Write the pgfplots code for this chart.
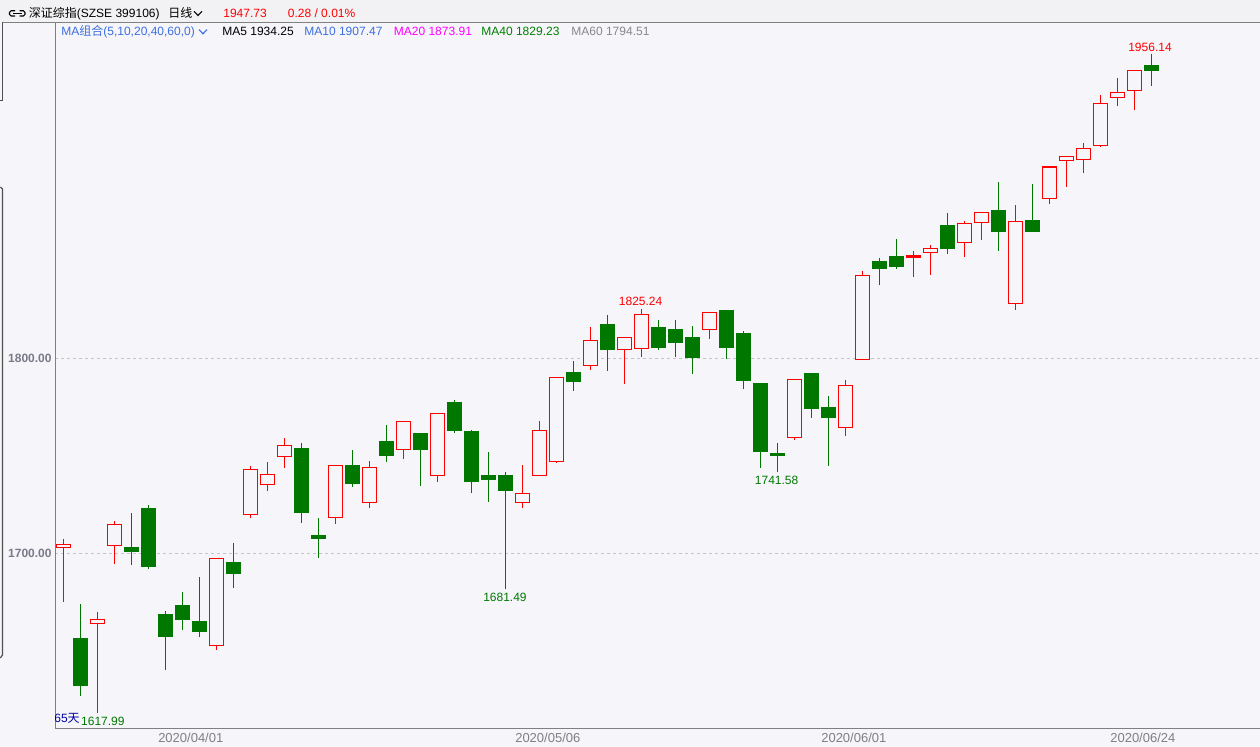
\documentclass[border=0pt]{standalone}
\usepackage{pgfplots}
\pgfplotsset{compat=1.18}
\usepackage{pgfplotstable}
\usepgfplotslibrary{statistics}
\usepackage{fontspec}
\setmainfont{Liberation Sans}
\newfontfamily\cjk{Noto Sans CJK SC}
\definecolor{bg}{HTML}{F5F5FA}
\definecolor{hdr}{HTML}{F2F2F4}
\definecolor{kred}{HTML}{FF0000}
\definecolor{kgreen}{HTML}{007800}
\definecolor{axgray}{HTML}{808080}
\definecolor{lblgray}{HTML}{7A7A88}
\definecolor{griddash}{HTML}{C4C4C8}
\definecolor{mablue}{HTML}{3D6FE0}
\definecolor{mamag}{HTML}{FF00FF}
\definecolor{magreen}{HTML}{008000}
\definecolor{magray}{HTML}{888888}
\definecolor{daynavy}{HTML}{0000A0}
\definecolor{strip}{HTML}{505050}
\newcommand\lbl{\fontsize{6pt}{7pt}\selectfont}

\pgfplotstableread{
i o h l c
0 1703.1 1707.3 1675.2 1704.6
1 1656.0 1674.0 1627.0 1632.1
2 1664.1 1669.9 1617.99 1666.2
3 1704.1 1716.6 1694.7 1714.9
4 1702.7 1720.7 1694.2 1700.8
5 1722.7 1724.8 1692.1 1693.1
6 1668.4 1670.4 1640.3 1657.2
7 1673.0 1680.2 1660.8 1666.0
8 1664.8 1687.8 1657.2 1659.8
9 1652.8 1697.4 1650.3 1697.4
10 1695.0 1705.3 1682.4 1689.5
11 1720.0 1744.6 1718.3 1743.1
12 1735.4 1746.8 1732.1 1740.5
13 1749.7 1759.1 1743.9 1755.4
14 1753.5 1756.6 1715.7 1720.8
15 1708.9 1718.1 1697.7 1707.5
16 1718.5 1745.1 1715.2 1745.1
17 1745.1 1753.0 1734.2 1735.7
18 1726.2 1747.3 1723.4 1744.1
19 1757.1 1765.8 1747.0 1750.1
20 1753.3 1767.7 1748.5 1767.7
21 1761.2 1761.2 1734.7 1753.1
22 1740.0 1771.8 1736.7 1771.8
23 1777.1 1778.6 1761.8 1762.9
24 1762.2 1763.2 1731.1 1736.7
25 1740.0 1751.9 1726.5 1737.9
26 1740.0 1741.7 1681.49 1732.1
27 1726.2 1745.1 1723.1 1730.8
28 1740.0 1767.8 1740.0 1763.1
29 1747.2 1790.3 1746.2 1790.3
30 1792.5 1798.6 1783.4 1788.0
31 1796.4 1816.1 1794.2 1809.2
32 1817.1 1822.2 1793.6 1804.4
33 1804.6 1810.8 1787.0 1810.8
34 1805.1 1825.24 1800.8 1822.6
35 1815.5 1819.6 1804.4 1805.4
36 1814.5 1819.6 1800.8 1808.0
37 1810.4 1816.6 1792.1 1800.2
38 1814.9 1823.6 1810.1 1823.6
39 1824.3 1824.3 1799.8 1805.4
40 1812.5 1814.0 1784.4 1788.5
41 1786.8 1786.8 1743.9 1752.1
42 1750.9 1756.6 1741.58 1750.1
43 1759.5 1789.2 1758.3 1789.2
44 1791.9 1791.9 1769.5 1774.2
45 1774.5 1780.7 1744.9 1769.5
46 1764.6 1788.9 1760.3 1786.2
47 1799.5 1844.8 1799.5 1842.6
48 1849.4 1851.4 1837.7 1845.9
49 1851.9 1861.2 1845.9 1847.0
50 1851.6 1855.0 1841.8 1852.5
51 1854.4 1858.1 1842.9 1856.4
52 1867.8 1874.5 1853.6 1856.2
53 1859.5 1870.3 1852.1 1869.2
54 1869.7 1874.9 1860.8 1874.9
55 1875.5 1890.4 1855.2 1864.9
56 1828.2 1878.6 1824.9 1870.3
57 1870.4 1889.4 1864.9 1864.9
58 1882.1 1898.1 1879.3 1898.1
59 1901.5 1903.6 1888.0 1903.6
60 1902.1 1910.3 1895.2 1907.7
61 1909.2 1935.0 1908.2 1930.8
62 1933.8 1943.7 1929.5 1936.4
63 1937.4 1947.7 1927.5 1947.45
64 1950.2 1956.14 1939.8 1947.73
}\ohlc

\pgfplotsset{
  upcandle/.style={draw=kred, fill=bg, line width=0.65pt, solid, mark=none},
  downcandle/.style={draw=kgreen, fill=kgreen, line width=0.6pt, solid, mark=none},
}

\begin{document}
\begin{tikzpicture}
\fill[bg] (0,0) rectangle (630pt,373.5pt);
\path[use as bounding box] (0,0) rectangle (630pt,373.5pt);
\begin{scope}[x=0.5pt,y=-0.5pt,yshift=373.5pt]
  \fill[hdr] (0,0) rectangle (1260,22.3);
  \draw[axgray, line width=0.5pt] (2.5,22.3) -- (1260,22.3);
  \draw[strip, line width=0.6pt] (0,100.7) -- (2.5,100.7) -- (2.5,22.3);
  \draw[strip, line width=0.6pt] (0.3,187) -- (2.5,189) -- (2.5,655) -- (0.3,658);
  % header icon
  \draw[black, line width=0.55pt, rounded corners=0.8pt] (15,10.8) -- (9.5,10.8) -- (9.5,16) -- (15,16);
  \draw[black, line width=0.55pt, rounded corners=0.8pt] (19.5,10.8) -- (25,10.8) -- (25,16) -- (19.5,16);
  \draw[black, line width=0.55pt] (13,13.4) -- (21.5,13.4);
  \node[anchor=west, inner sep=0pt, font=\lbl] at (28.5,13.3) {{\cjk 深证综指}(SZSE 399106)};
  \node[anchor=west, inner sep=0pt, font=\lbl] at (168,13.3) {{\cjk 日线}};
  \draw[black, line width=0.55pt] (194,11.3) -- (198,15.5) -- (202,11.3);
  \node[anchor=west, inner sep=0pt, font=\lbl, text=kred] at (223,13.3) {1947.73};
  \node[anchor=west, inner sep=0pt, font=\lbl, text=kred] at (287.5,13.3) {0.28 / 0.01\%};
  % MA row
  \node[anchor=west, inner sep=0pt, font=\lbl, text=mablue] at (61,31.7) {MA{\cjk 组合}(5,10,20,40,60,0)};
  \draw[mablue, line width=0.55pt] (199,29.6) -- (203,33.8) -- (207,29.6);
  \node[anchor=west, inner sep=0pt, font=\lbl, text=black] at (222,31.7) {MA5 1934.25};
  \node[anchor=west, inner sep=0pt, font=\lbl, text=mablue] at (304,31.7) {MA10 1907.47};
  \node[anchor=west, inner sep=0pt, font=\lbl, text=mamag] at (393.5,31.7) {MA20 1873.91};
  \node[anchor=west, inner sep=0pt, font=\lbl, text=magreen] at (481,31.7) {MA40 1829.23};
  \node[anchor=west, inner sep=0pt, font=\lbl, text=magray] at (571,31.7) {MA60 1794.51};
\end{scope}
\begin{axis}[
  at={(27.65pt,9.35pt)}, anchor=south west,
  scale only axis, width=602.35pt, height=353pt,
  xmin=-0.47, xmax=70.39, ymin=1610.26, ymax=1972.31,
  axis x line*=bottom, axis y line*=left,
  axis line style={-, draw=axgray, line width=0.5pt},
  major tick length=0pt,
  boxplot/draw direction=y,
  boxplot/box extend=0.82,
  boxplot/whisker extend=0,
  ytick={1700,1800},
  scaled y ticks=false,
  ymajorgrids,
  grid style={griddash, dash pattern=on 1.5pt off 1.5pt, line width=0.5pt},
  yticklabel style={/pgf/number format/fixed, /pgf/number format/fixed zerofill,
    /pgf/number format/precision=2, /pgf/number format/1000 sep={},
    /pgf/number format/assume math mode=true,
    font=\lbl\bfseries, text=lblgray, anchor=east, inner sep=0pt, xshift=-1.65pt},
  xtick={7.5,28.5,46.5,63.5},
  xticklabels={2020/04/01,2020/05/06,2020/06/01,2020/06/24},
  xticklabel style={font=\fontsize{6.5pt}{7.5pt}\selectfont, text=axgray, anchor=center, inner sep=0pt, yshift=-4.85pt},
]
\pgfplotsinvokeforeach{0,...,64}{
  \pgfplotstablegetelem{#1}{o}\of\ohlc \let\kO\pgfplotsretval
  \pgfplotstablegetelem{#1}{h}\of\ohlc \let\kH\pgfplotsretval
  \pgfplotstablegetelem{#1}{l}\of\ohlc \let\kL\pgfplotsretval
  \pgfplotstablegetelem{#1}{c}\of\ohlc \let\kC\pgfplotsretval
  \pgfplotstablegetelem{#1}{i}\of\ohlc \let\kX\pgfplotsretval
  \pgfmathsetmacro\kLo{min(\kO,\kC)}
  \pgfmathsetmacro\kHi{max(\kO,\kC)}
  \pgfmathtruncatemacro\kUp{\kC>=\kO ? 1 : 0}
  \edef\kTemp{\noexpand\addplot[\ifnum\kUp=1 upcandle\else downcandle\fi,
    boxplot prepared={draw position=\kX, lower whisker=\kL, lower quartile=\kLo,
      median=\kLo, upper quartile=\kHi, upper whisker=\kH}] coordinates {};}
  \kTemp
}
\draw[axgray, line width=0.5pt] (axis cs:63.5,1610.26) -- ++(0,4.5pt);
\node[text=kred, font=\lbl, inner sep=0pt] at (axis cs:63.92,1959.6) {1956.14};
\node[text=kred, font=\lbl, inner sep=0pt] at (axis cs:33.96,1829.0) {1825.24};
\node[text=kgreen, font=\lbl, inner sep=0pt] at (axis cs:41.96,1737.2) {1741.58};
\node[text=kgreen, font=\lbl, inner sep=0pt] at (axis cs:25.98,1677.4) {1681.49};
\node[text=kgreen, font=\lbl, inner sep=0pt] at (axis cs:2.33,1613.6) {1617.99};
\node[text=daynavy, font=\lbl, inner sep=0pt] at (axis cs:0.22,1615.5) {65{\cjk 天}};
\end{axis}
\end{tikzpicture}
\end{document}
